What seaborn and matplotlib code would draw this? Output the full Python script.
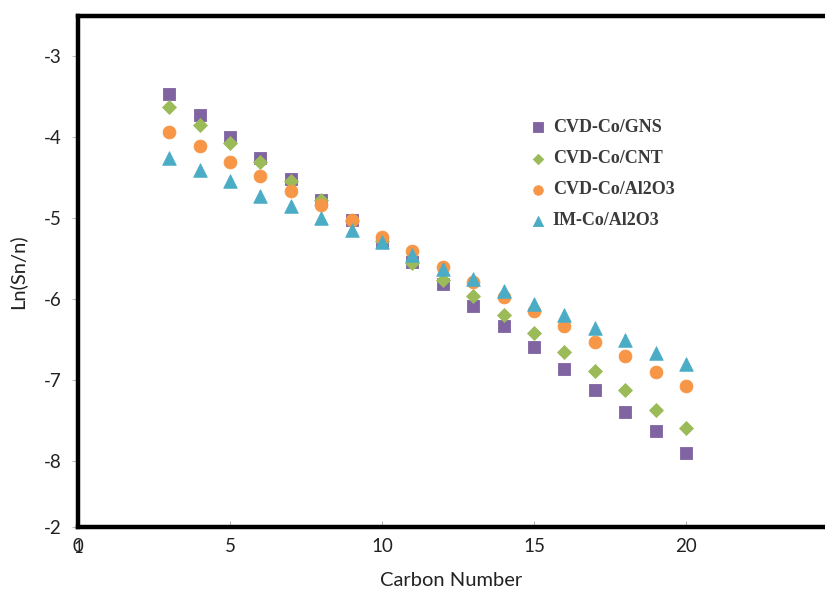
import numpy as np
import pandas as pd
import matplotlib
matplotlib.use("Agg")
import matplotlib.pyplot as plt
import seaborn as sns

# data
carbon = list(range(3, 21))
gns = [-3.46, -3.73, -4.00, -4.25, -4.51, -4.77, -5.02, -5.30, -5.54,
       -5.81, -6.09, -6.33, -6.59, -6.86, -7.12, -7.40, -7.63, -7.90]
cnt = [-3.62, -3.85, -4.07, -4.31, -4.54, -4.78, -5.04, -5.28, -5.55,
       -5.77, -5.96, -6.20, -6.42, -6.65, -6.89, -7.12, -7.37, -7.60]
cvd_al = [-3.93, -4.11, -4.31, -4.48, -4.67, -4.84, -5.02, -5.23, -5.41,
          -5.60, -5.79, -5.98, -6.15, -6.33, -6.53, -6.70, -6.90, -7.07]
im_al = [-4.26, -4.41, -4.54, -4.72, -4.85, -5.00, -5.15, -5.30, -5.46,
         -5.63, -5.75, -5.90, -6.06, -6.20, -6.36, -6.51, -6.67, -6.80]

series_names = ["CVD-Co/GNS", "CVD-Co/CNT", "CVD-Co/Al2O3", "IM-Co/Al2O3"]
y_ticks = [-3, -4, -5, -6, -7, -8]
y_bottom = -8.82
x_ticks = [0, 5, 10, 15, 20]

df = pd.DataFrame({
    "carbon": carbon * 4,
    "value": gns + cnt + cvd_al + im_al,
    "series": np.repeat(series_names, len(carbon)),
})

colors = {"CVD-Co/GNS": "#8064A2", "CVD-Co/CNT": "#9BBB59",
          "CVD-Co/Al2O3": "#F79646", "IM-Co/Al2O3": "#4BACC6"}
markers = {"CVD-Co/GNS": "s", "CVD-Co/CNT": "D",
           "CVD-Co/Al2O3": "o", "IM-Co/Al2O3": "^"}
sizes = {"CVD-Co/GNS": 80, "CVD-Co/CNT": 50,
         "CVD-Co/Al2O3": 85, "IM-Co/Al2O3": 95}

sns.set_style("white")
plt.rcParams["font.family"] = ["Lato", "DejaVu Sans"]

fig = plt.figure(figsize=(8.25, 5.9), dpi=100)
ax = fig.add_axes([0.0945, 0.1068, 0.9055, 0.866])

# one call per series so each marker gets its own size
for name in series_names:
    sub = df[df["series"] == name]
    sns.scatterplot(data=sub, x="carbon", y="value", color=colors[name],
                    marker=markers[name], s=sizes[name], linewidth=0.6,
                    edgecolor=colors[name], ax=ax, label=name)

ax.set_xlim(0, 24.57)
ax.set_ylim(y_bottom, -2.5)
ax.set_xticks(x_ticks)
ax.set_xticklabels([str(t) for t in x_ticks])
ax.set_yticks(y_ticks + [y_bottom])
ax.set_yticklabels([str(t) for t in y_ticks] + ["-2"])
# the reference has a stray "1" printed on top of the 0
ax.text(0.02, -0.025, "1", transform=ax.get_xaxis_transform(), ha="center",
        va="top", fontsize=12, color="#222222")

for side in ["left", "top", "bottom"]:
    ax.spines[side].set_color("black")
    ax.spines[side].set_linewidth(3.2)
ax.spines["right"].set_visible(False)

ax.tick_params(axis="y", direction="out", length=4, width=0.8, color="#bbbbbb",
               labelsize=13.5, labelcolor="#222222", pad=8, left=True)
ax.tick_params(axis="x", direction="in", length=4, width=0.8, color="#bbbbbb",
               labelsize=13.5, labelcolor="#222222", pad=8, bottom=True)

ax.set_xlabel("Carbon Number", fontsize=14.5, color="#222222", labelpad=12)
ax.set_ylabel("Ln(Sn/n)", fontsize=14.5, color="#222222", labelpad=12)

handles, labels = ax.get_legend_handles_labels()
leg = ax.legend(handles, labels, loc="upper left", bbox_to_anchor=(0.58, 0.83),
                frameon=False, markerscale=0.75, handletextpad=0.2,
                handlelength=1.2, labelspacing=0.78,
                prop={"family": "Liberation Serif", "weight": "bold", "size": 13})
for t in leg.get_texts():
    t.set_color("#3a3a3a")

fig.savefig("out.png", dpi=100)
plt.close(fig)
